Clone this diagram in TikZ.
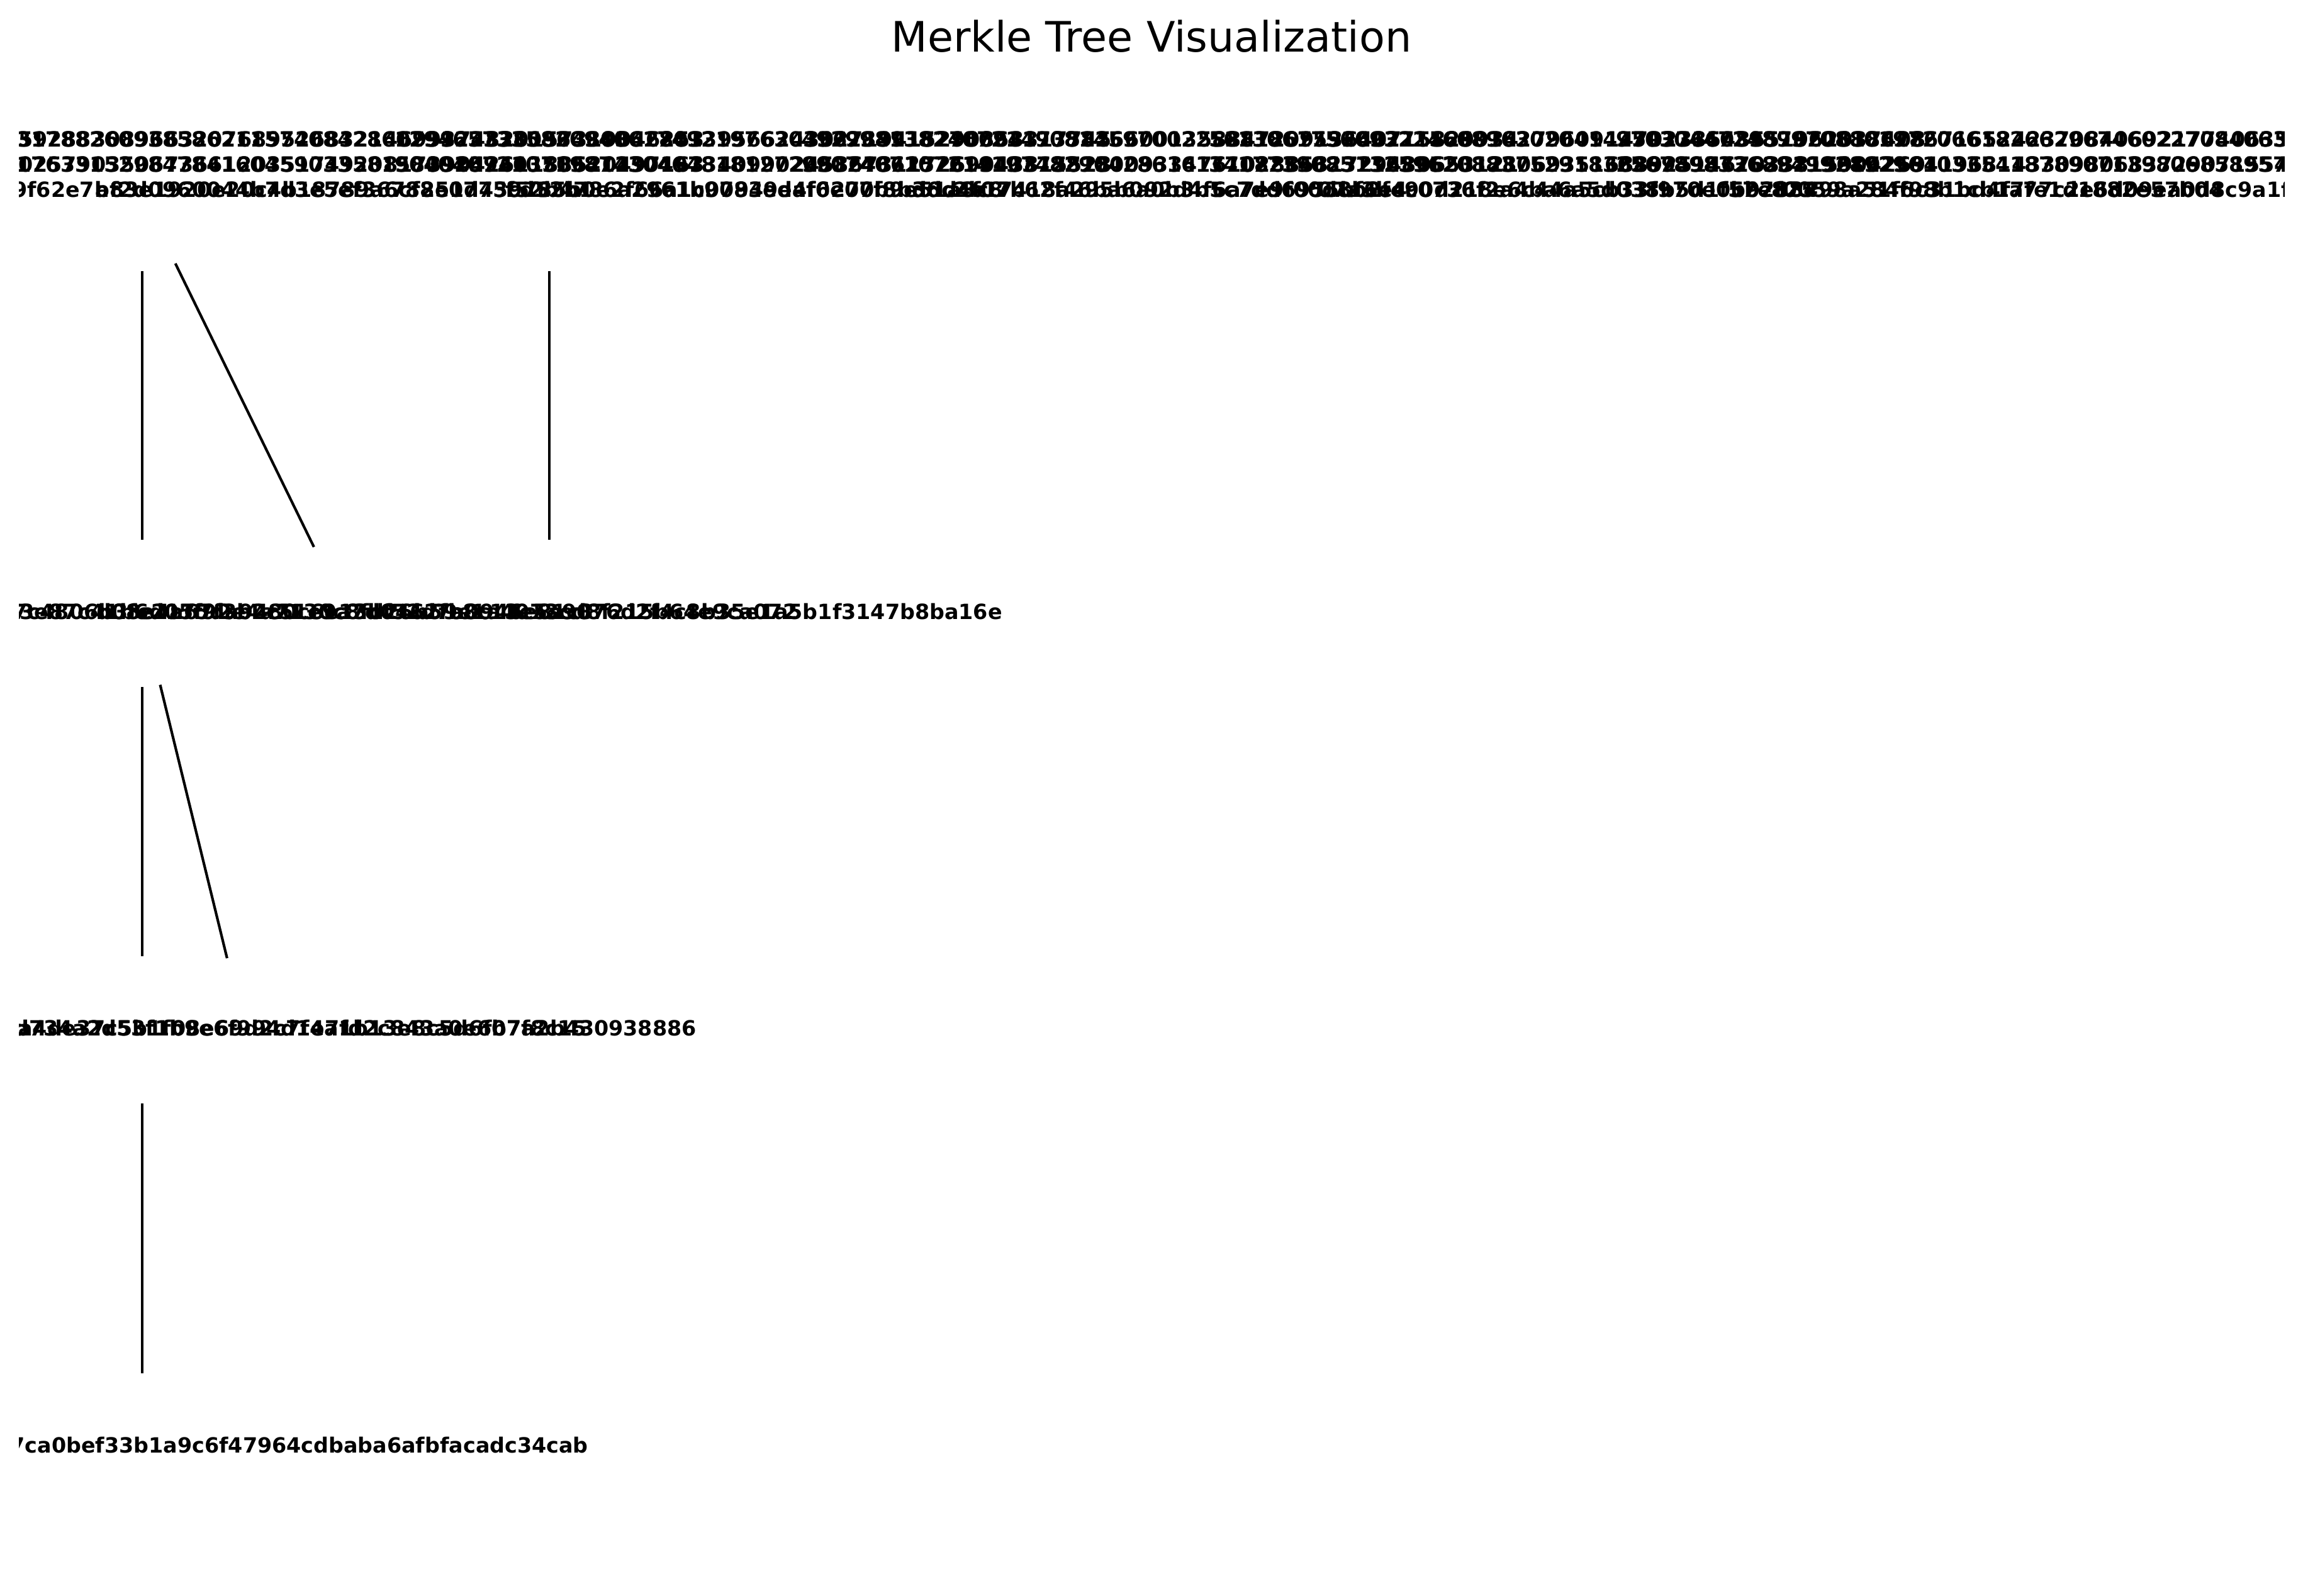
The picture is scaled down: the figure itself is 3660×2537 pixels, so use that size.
\documentclass[tikz,border=0pt]{standalone}
\usepackage{fontspec}
\setmainfont{DejaVu Sans}

\begin{document}
\begin{tikzpicture}[x=0.24pt, y=-0.24pt,
    hashlbl/.style={inner sep=0, align=center, font=\fontsize{8}{9.6}\selectfont\bfseries},
    edge/.style={line width=1pt, shorten <=28.8pt, shorten >=27.4pt}]
    \useasboundingbox (0, 0) rectangle (3660, 2537);
    \node [anchor=base, font=\fontsize{16}{19}\selectfont] (title) at (1830, 82) {Merkle Tree Visualization};
    \begin{scope}
    \clip (30, 0) rectangle (3630, 2537);
    % leaves (labels sit a bit above their points)
    \coordinate (leaf0) at (226, 311);
    \coordinate (leaf1) at (873, 311);
    \coordinate (leaf2) at (1520, 311);
    \coordinate (leaf3) at (2167, 311);
    \coordinate (leaf4) at (2814, 311);
    \coordinate (leaf5) at (3461, 311);
    \node [hashlbl] (leaf0txt) at ([yshift=12pt]leaf0) {40951062870938688842216784816059288308966320768952683214699374820157319046253\\25463219898471857044539038516802579035067366120351749208173904261183520497163\\346c1fa83e192e7d03a1f7d9f62e7bf2d0960044b7d3e5ef36788e0775cd52b1};
    \node [hashlbl] (leaf1txt) at ([yshift=12pt]leaf1) {70317882609385862115740842860739223380964803628013956624302719415290863317745\\05176331529847841604590335815809259403506412304973409902458673117269043815528\\a83e1920e20c4b18789a6cf251d439785b0e2f66a1c9083ed4f6270b9e51a3c8};
    \node [hashlbl] (leaf2txt) at ([yshift=12pt]leaf2) {12946573358209406174921976303562849182760941735826600135884720913640715829934\\90404072107198743046481812720832466257619403728150093347610288531729480653121\\f52b4786a2961b07949eaf0e07f8b3dd4f07b62f46ba6a0b3b5c7dd6955bf6e4};
    \node [hashlbl] (leaf3txt) at ([yshift=12pt]leaf3) {49299813824072149081459700225281867592602715660182796091470233548551962037408\\99074071072141974829042861617708254623716395201280693516889251467033815904269\\d6c2b17418a295b092d4f6a7e9f00d8b2f4c0736f2a4ba6a5d038b5d1f57e825};
    \node [hashlbl] (leaf4txt) at ([yshift=12pt]leaf4) {56130617560932246089630204142593766039578206186286716524237084069217740635081\\34177390851325962088375291836289495726282196107584196814330980683729071554603\\07a3be90d218e6c44a5cb33f970e0b9288498a51f6c31bd4f7fe1d1882e57b04};
    \node [hashlbl] (leaf5txt) at ([yshift=12pt]leaf5) {97030447248997088019720661826629674602270840636220108840724183509261578830724\\25678983368949928929610335418789071398068589573440780210935782957184302668229\\5b7f0059a284f98b1cb1a77c2e6d09ea0d8c9a1f0f9e4d70a44c5e829fa1138e};
    % level 2
    \node [hashlbl] (mid0) at (226, 972) {c91f2a7e84d3b60f5e9a1d27c4806b3fe2175da9480c6e13bf52d7a0946e81c3};
    \node [hashlbl] (mid1) at (549, 972) {2b19d0f8a3e87c41b6d05f92e4a7130c8fd26b59e1a4073cd8f215b64e9ca072};
    \node [hashlbl] (mid2) at (873, 972) {d08e4a67f3b2c51e9a7d0462fb8c13e5a9076d2f4c8b35e1a5b1f3147b8ba16e};
    % level 3
    \node [hashlbl] (up0) at (226, 1634) {32b1efa6a151b4c30f5f8a4d734a2d53f1b9e6f994d1e7fd2c843a0e6b7f8c15};
    \node [hashlbl] (up1) at (388, 1634) {6e1ba7d4c20f93b8a4de37c5b1f08e69d2c7f4a1b13e8c5d6f07a2b430938886};
    % root
    \node [hashlbl] (root) at (226, 2297) {7d2e94b1a05fc38e6d19b47ca0bef33b1a9c6f47964cdbaba6afbfacadc34cab};
    \draw [edge] (leaf0) -- (mid0.center);
    \draw [edge] (leaf0) -- (mid1.center);
    \draw [edge] (leaf1) -- (mid2.center);
    \draw [edge] (mid0.center) -- (up0.center);
    \draw [edge] (mid0.center) -- (up1.center);
    \draw [edge] (up0.center) -- (root.center);
    \end{scope}
\end{tikzpicture}
\end{document}
